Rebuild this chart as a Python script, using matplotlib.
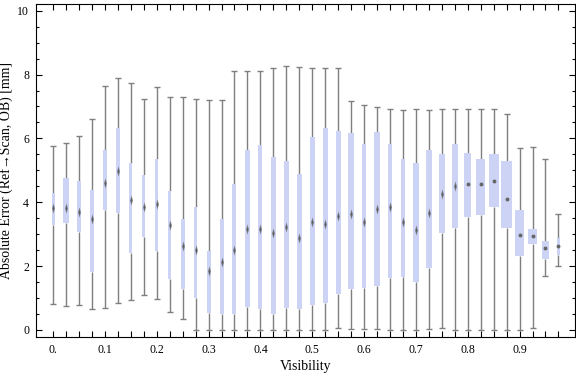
import numpy as np
import matplotlib
matplotlib.use("Agg")
import matplotlib.pyplot as plt
from matplotlib.path import Path

plt.rcParams['font.family'] = ['Liberation Serif', 'DejaVu Serif']

# box-whisker data
visibility = [0.0, 0.025, 0.05, 0.075, 0.1, 0.125, 0.15, 0.175, 0.2, 0.225,
              0.25, 0.275, 0.3, 0.325, 0.35, 0.375, 0.4, 0.425, 0.45, 0.475,
              0.5, 0.525, 0.55, 0.575, 0.6, 0.625, 0.65, 0.675, 0.7, 0.725,
              0.75, 0.775, 0.8, 0.825, 0.85, 0.875, 0.9, 0.925, 0.95, 0.975]
whisk_hi = [5.76, 5.87, 6.09, 6.62, 7.63, 7.88, 7.72, 7.25, 7.60, 7.31,
            7.31, 7.23, 7.20, 7.20, 8.11, 8.11, 8.11, 8.22, 8.28, 8.25,
            8.22, 8.22, 8.22, 7.17, 7.06, 6.97, 6.91, 6.88, 6.91, 6.88,
            6.91, 6.91, 6.91, 6.91, 6.91, 6.78, 5.70, 5.73, 5.37, 3.62]
q3 = [4.30, 4.75, 4.68, 4.38, 5.63, 6.32, 5.23, 4.85, 5.35, 4.35,
      3.47, 3.85, 2.47, 3.47, 4.57, 5.63, 5.78, 5.41, 5.28, 4.88,
      6.04, 6.32, 6.23, 6.17, 5.84, 6.20, 5.82, 5.35, 5.23, 5.63,
      5.51, 5.84, 5.53, 5.34, 5.50, 5.28, 3.76, 3.16, 2.80, 2.87]
median = [3.81, 3.83, 3.70, 3.47, 4.59, 4.98, 4.07, 3.86, 3.96, 3.29,
          2.64, 2.50, 1.85, 2.14, 2.52, 3.16, 3.16, 3.05, 3.23, 2.87,
          3.39, 3.32, 3.57, 3.62, 3.37, 3.80, 3.84, 3.39, 3.13, 3.65,
          4.26, 4.52, 4.56, 4.57, 4.66, 4.11, 2.97, 2.93, 2.58, 2.64]
q1 = [3.29, 3.36, 3.08, 1.83, 3.76, 3.65, 2.42, 2.92, 2.48, 1.59,
      1.29, 1.01, 0.54, 0.49, 0.49, 0.73, 0.67, 0.49, 0.70, 0.65,
      0.77, 0.83, 1.13, 1.29, 1.31, 1.38, 1.63, 1.66, 1.50, 1.95,
      3.03, 3.20, 3.55, 3.61, 3.86, 3.20, 2.33, 2.68, 2.23, 2.36]
whisk_lo = [0.80, 0.75, 0.78, 0.65, 0.68, 0.83, 0.94, 1.09, 0.96, 0.57,
            0.33, 0.0, 0.0, 0.0, 0.0, 0.0, 0.0, 0.0, 0.0, 0.0,
            0.0, 0.0, 0.05, 0.02, 0.02, 0.02, 0.0, 0.0, 0.0, 0.02,
            0.05, 0.0, 0.0, 0.0, 0.0, 0.0, 0.0, 0.05, 1.68, 1.99]

# box widths in pixels (as drawn)
box_px = [3, 5.3, 4, 3.3, 3.3, 4, 2.7, 2.7, 3, 3,
          4, 3.7, 4, 4, 4, 4.3, 4, 4.7, 5, 5,
          5, 5.3, 5.3, 5.3, 4.7, 5.3, 4.7, 4.7, 6.3, 6,
          6, 6.3, 7, 9, 10, 10.7, 9, 9, 7, 3.3]

tick_pos = [0.0, 0.1, 0.2, 0.3, 0.4, 0.5, 0.6, 0.7, 0.8, 0.9]
tick_lab = ['0.', '0.1', '0.2', '0.3', '0.4', '0.5', '0.6', '0.7', '0.8', '0.9']

fig = plt.figure(figsize=(5.76, 3.77), dpi=100)
ax = fig.add_axes([36 / 576, 40 / 377, 539 / 576, 333 / 377])

xlo, xhi = -0.033, 1.007
px = (xhi - xlo) / 539.0  # data units per pixel

x = np.array(visibility)
w = np.array(box_px) * px
lo = np.array(whisk_lo)
hi = np.array(whisk_hi)
b1 = np.array(q1)
b3 = np.array(q3)
med = np.array(median)

wcol = '#7f7f7f'
ax.vlines(x, lo, b1, color=wcol, lw=1.0, zorder=1)
ax.vlines(x, b3, hi, color=wcol, lw=1.0, zorder=1)
cap = 3 * px
ax.hlines(lo, x - cap, x + cap, color=wcol, lw=1.0, zorder=1)
ax.hlines(hi, x - cap, x + cap, color=wcol, lw=1.0, zorder=1)
ax.bar(x, b3 - b1, bottom=b1, width=w, color='#ccd3f5', lw=0, zorder=2)

# median markers: thin blurred diamonds, small dots for the high-visibility boxes
diamond = Path([(0, 1), (0.28, 0), (0, -1), (-0.28, 0), (0, 1)])
tall = x < 0.79
ax.plot(x[tall], med[tall], ls='none', marker=diamond, ms=7.5, mew=0,
        color='#6a6a6a', alpha=0.75, zorder=3)
ax.plot(x[tall], med[tall], ls='none', marker=diamond, ms=4, mew=0,
        color='#555555', alpha=0.8, zorder=3)
ax.plot(x[~tall], med[~tall], ls='none', marker='o', ms=2.8, mew=0,
        color='#666666', zorder=3)

ax.set_xlim(xlo, xhi)
ax.set_ylim(-0.22, 10.21)

ax.set_xticks(visibility)
ax.set_xticklabels([tick_lab[tick_pos.index(v)] if v in tick_pos else '' for v in visibility])
ax.set_yticks([0, 2, 4, 6, 8, 10])
ax.set_yticks(np.arange(0, 10.01, 0.5), minor=True)
ax.tick_params(axis='both', which='both', direction='in', top=True, right=True,
               labelsize=8.5, colors='black', width=0.8)
ax.tick_params(axis='x', which='major', length=4, pad=5)
ax.tick_params(axis='y', which='major', length=4, pad=5)
ax.tick_params(axis='y', which='minor', length=2.5)
ax.tick_params(axis='y', which='major', labelright=False)
for s in ax.spines.values():
    s.set_linewidth(0.8)

ax.set_xlabel('Visibility', fontsize=10, labelpad=3)
ax.set_ylabel('Absolute Error (Ref\u2192Scan, OB) [mm]', fontsize=10, labelpad=3)

fig.savefig('out.png', dpi=100)
